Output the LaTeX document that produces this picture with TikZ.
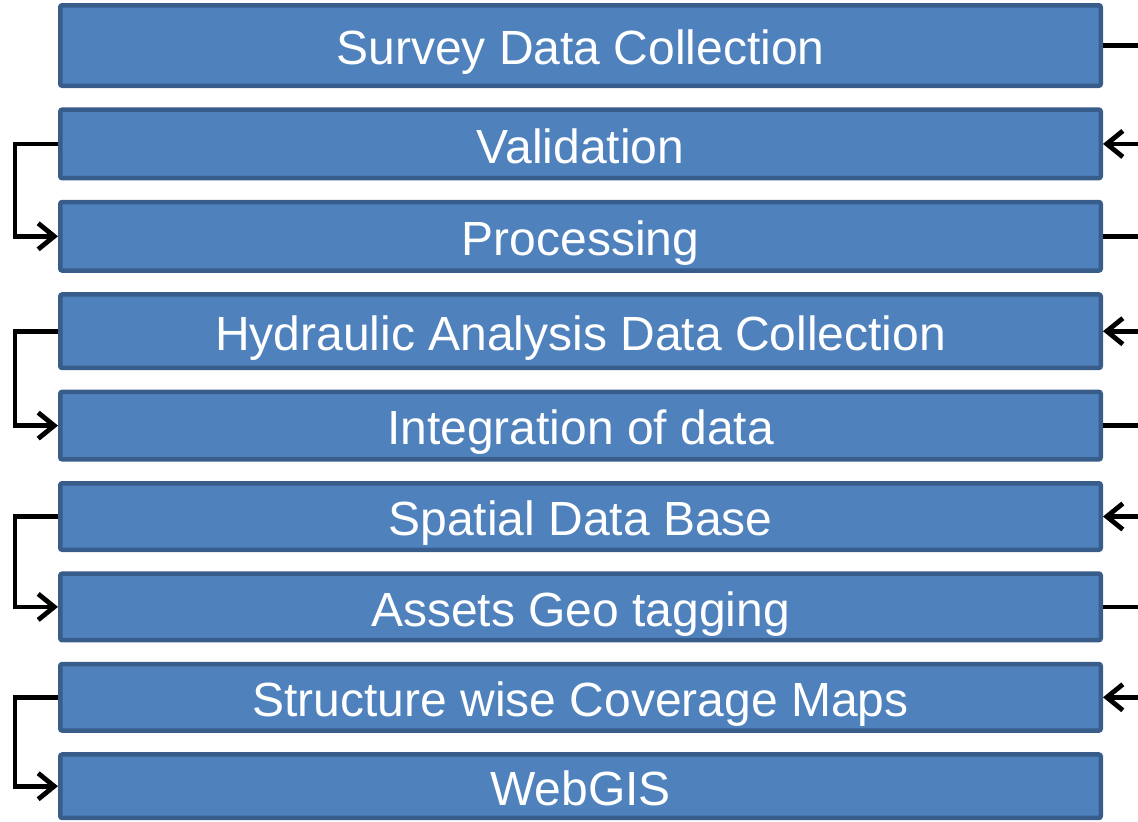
\documentclass[tikz,border=0pt]{standalone}
\usepackage{fontspec}
\setmainfont{Liberation Sans}
\usepackage{tikz}
\usetikzlibrary{positioning,arrows.meta}
\definecolor{stagefill}{HTML}{4F81BD}
\definecolor{stageborder}{HTML}{385D8A}

\begin{document}
\begin{tikzpicture}
    [ node distance = 9.7pt
    , stage/.style =
      { draw = stageborder, fill = stagefill, line width = 2.25pt
      , rounded corners = 1pt, inner sep = 0pt
      , minimum width = 520.25pt, minimum height = 33.75pt
      , text = white, text height = 19.2pt, text depth = 0pt
      , font = \fontsize{24pt}{28pt}\selectfont }
    , link/.style =
      { line width = 2.4pt, -{Straight Barb[length=8pt,width=13pt]} }
    ]
    \useasboundingbox (0,0) rectangle (569pt,-410.5pt);

    \node [stage,minimum height=40.25pt] (survey) at (290.25pt,-22.75pt) {Survey Data Collection};
    \node [stage,minimum height=34.25pt] (valid) [below=of survey] {Validation};
    \node [stage,minimum height=34.25pt] (proc) [below=of valid] {Processing};
    \node [stage,minimum height=36.75pt] (hydro) [below=of proc] {Hydraulic Analysis Data Collection};
    \node [stage] (integ) [below=of hydro] {Integration of data};
    \node [stage,minimum height=33.25pt] (sdb) [below=of integ] {Spatial Data Base};
    \node [stage,minimum height=33.25pt] (geotag) [below=of sdb] {Assets Geo tagging};
    \node [stage,minimum height=33.25pt] (maps) [below=of geotag] {Structure wise Coverage Maps};
    \node [stage,minimum height=31.75pt] (webgis) [below=of maps] {WebGIS};

    % right side: out of the page and back
    \draw [link] (survey.east) -- ++(25pt,0) |- (valid.east);
    \draw [link] (proc.east) -- ++(25pt,0) |- (hydro.east);
    \draw [link] (integ.east) -- ++(25pt,0) |- (sdb.east);
    \draw [link] (geotag.east) -- ++(25pt,0) |- (maps.east);

    % left side
    \draw [link] (valid.west) -- ++(-21.5pt,0) |- (proc.west);
    \draw [link] (hydro.west) -- ++(-21.5pt,0) |- (integ.west);
    \draw [link] (sdb.west) -- ++(-21.5pt,0) |- (geotag.west);
    \draw [link] (maps.west) -- ++(-21.5pt,0) |- (webgis.west);
  \end{tikzpicture}
\end{document}
